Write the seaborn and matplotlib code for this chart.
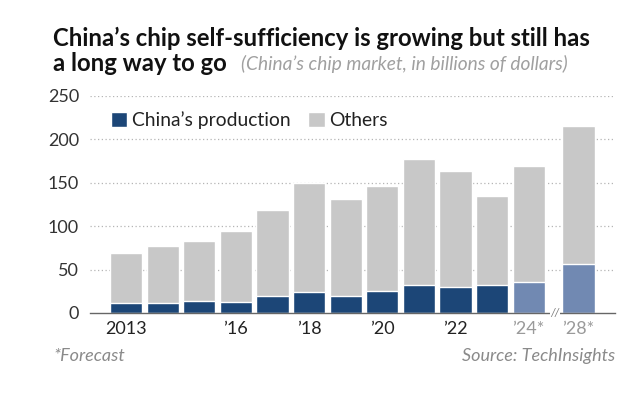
import matplotlib
matplotlib.use("Agg")
import matplotlib.pyplot as plt
import seaborn as sns
import pandas as pd
from matplotlib.patches import Patch

years = ["2013", "2014", "2015", "2016", "2017", "2018", "2019", "2020",
         "2021", "2022", "2023", "2024*", "2028*"]
positions = [0, 1, 2, 3, 4, 5, 6, 7, 8, 9, 10, 11, 12.36]
total_market = [69, 77, 83, 94, 118, 150, 131, 146, 177, 164, 135, 169, 215]
china_production = [11, 12, 14, 13, 20, 24.5, 19.5, 25, 32, 30, 32, 35.5, 56.5]
kind = ["actual"] * 11 + ["forecast"] * 2
tick_years = ["2013", "2016", "2018", "2020", "2022", "2024*", "2028*"]
tick_labels = ["2013", "\u201916", "\u201918", "\u201920", "\u201922", "\u201924*", "\u201928*"]

NAVY = "#1c4677"
LIGHT = "#7189b2"
GRAY = "#c8c8c8"

df = pd.DataFrame({"year": years, "pos": positions, "total": total_market,
                   "china": china_production, "kind": kind})

sns.set_style("white")
plt.rcParams["font.family"] = ["Lato", "DejaVu Sans"]

fig = plt.figure(figsize=(6.44, 3.96), dpi=100)
ax = fig.add_axes([0.14, 0.2096, 0.815, 0.5484])

sns.barplot(data=df, x="pos", y="total", native_scale=True, width=0.88,
            color=GRAY, saturation=1, ax=ax, zorder=2)
sns.barplot(data=df, x="pos", y="china", hue="kind", native_scale=True,
            dodge=False, width=0.88, palette={"actual": NAVY, "forecast": LIGHT},
            saturation=1, legend=False, ax=ax, zorder=3)

ax.set_xlim(-0.98, 13.36)
ax.set_ylim(0, 250)
ax.set_yticks([0, 50, 100, 150, 200, 250])
ax.set_yticklabels(["0", "50", "100", "150", "200", "250"])
for yv in [50, 100, 150, 200, 250]:
    ax.axhline(yv, color="#b5b5b5", lw=0.9, ls=(0, (1, 2)), zorder=1)

tpos = [df.loc[df.year == y, "pos"].iloc[0] for y in tick_years]
ax.set_xticks(tpos)
ax.set_xticklabels(tick_labels)
for lab in ax.get_xticklabels():
    if "*" in lab.get_text():
        lab.set_color("#9a9a9a")
    else:
        lab.set_color("#222222")
ax.tick_params(axis="x", length=2.5, width=2, color="#111111", pad=3,
               labelsize=13, direction="out")
ax.tick_params(axis="y", length=0, labelsize=13, labelcolor="#333333", pad=8)
ax.set_xlabel("")
ax.set_ylabel("")
for s in ["top", "right", "left"]:
    ax.spines[s].set_visible(False)
ax.spines["bottom"].set_color("#666666")
ax.spines["bottom"].set_linewidth(1.0)
ax.spines["bottom"].set_zorder(5)

ax.text(11.72, 0, "//", ha="center", va="center", fontsize=8, color="#777777",
        style="italic", zorder=6,
        bbox=dict(boxstyle="square,pad=0.05", fc="white", ec="none"))

handles = [Patch(facecolor=NAVY, label="China\u2019s production"),
           Patch(facecolor=GRAY, label="Others")]
ax.legend(handles=handles, loc="upper left", bbox_to_anchor=(0.025, 0.965),
          ncol=2, frameon=False, fontsize=13.9, handlelength=0.85,
          handleheight=0.85, handletextpad=0.25, columnspacing=0.9,
          borderaxespad=0, labelcolor="#222222")

fig.text(0.083, 0.904, "China\u2019s chip self-sufficiency is growing but still has",
         fontsize=17.2, fontweight="bold", color="#111111", ha="left", va="center")
fig.text(0.083, 0.840, "a long way to go", fontsize=17.2, fontweight="bold",
         color="#111111", ha="left", va="center")
fig.text(0.374, 0.838, "(China\u2019s chip market, in billions of dollars)",
         fontsize=13.8, style="italic", color="#a0a0a0", ha="left", va="center")

fig.text(0.083, 0.101, "*Forecast", fontsize=13, style="italic",
         color="#8a8a8a", ha="left", va="center")
fig.text(0.955, 0.101, "Source: TechInsights", fontsize=13, style="italic",
         color="#8a8a8a", ha="right", va="center")

fig.savefig("out.png", dpi=100)
